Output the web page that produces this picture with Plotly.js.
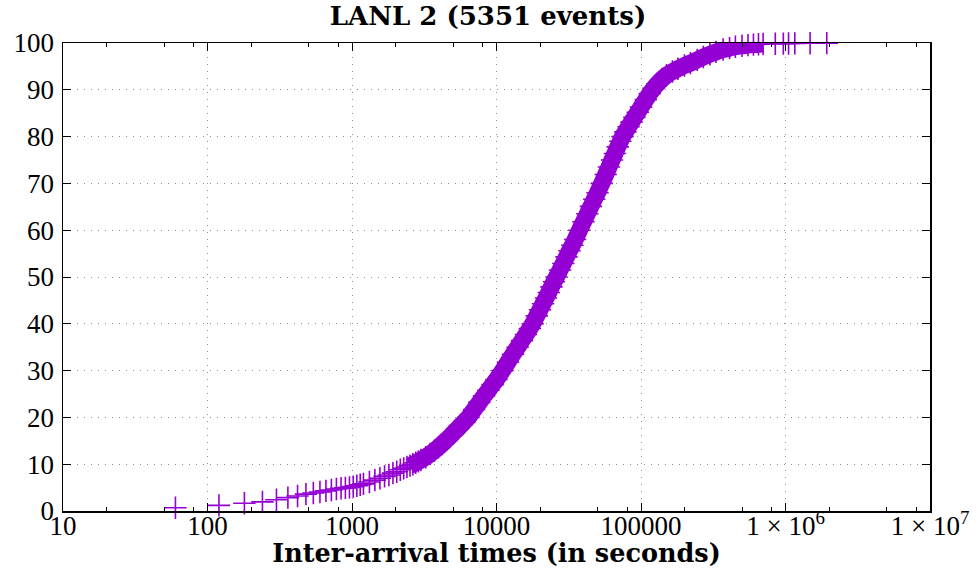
<!DOCTYPE html>
<html>
<head>
<meta charset="utf-8">
<script src="https://cdn.plot.ly/plotly-3.0.1.min.js"></script>
<style>
  html, body { margin: 0; padding: 0; background: #fff; }
  #chart { width: 976px; height: 568px; }
</style>
</head>
<body>
<div id="chart"></div>
<script>
// Inter-arrival time (seconds) and cumulative percentage of events
const times = [
  60, 120, 180, 240, 300, 360, 420, 480, 540, 600, 660, 720, 780, 840, 900, 960,
  1020, 1080, 1140, 1200, 1320, 1440, 1560, 1680, 1800, 1920, 2040, 2160, 2280, 2400,
  2520, 2640, 2760, 2880, 3000, 3240, 3480, 3720, 3960, 4200, 4500, 4800, 5100, 5400,
  5700, 6000, 6400, 7000, 7600, 8200, 8800, 9400, 10000, 11000, 12000, 13000, 14000,
  15000, 16000, 17000, 17800, 19000, 20000, 21000, 22000, 23000, 24000, 25000, 26000,
  27500, 29000, 30500, 32000, 33500, 35000, 37500, 40000, 42500, 45000, 47500, 50000,
  53500, 57000, 60000, 63000, 66000, 69000, 72000, 74500, 78000, 82000, 86000, 90000,
  95000, 100000, 108000, 115000, 122000, 130000, 140000, 150000, 165000, 180000, 200000,
  220000, 245000, 270000, 300000, 330000, 370000, 410000, 450000, 500000, 550000,
  600000, 650000, 700000, 850000, 966000, 1050000, 1160000, 1480000, 1930000
];
const cdfPercent = [
  0.7, 1.2, 1.65, 1.95, 2.4, 2.85, 3.2, 3.6, 3.85, 4.05, 4.3, 4.5, 4.7, 4.85, 4.95, 5.05,
  5.2, 5.4, 5.6, 5.8, 6.2, 6.6, 7.0, 7.4, 7.7, 8.1, 8.4, 8.8, 9.1, 9.4,
  9.7, 10.0, 10.3, 10.6, 10.9, 11.5, 12.2, 12.9, 13.6, 14.3, 15.2, 16.0, 16.9, 17.6,
  18.4, 19.1, 20.0, 21.7, 23.2, 24.6, 25.8, 27.0, 28.1, 30.0, 31.8, 33.5, 35.0,
  36.4, 37.7, 39.0, 40.0, 41.7, 43.0, 44.3, 45.5, 46.7, 47.9, 49.0, 50.0,
  51.5, 52.9, 54.3, 55.6, 56.8, 58.0, 60.0, 61.8, 63.5, 65.1, 66.6, 68.0,
  70.0, 71.9, 73.5, 75.0, 76.4, 77.8, 79.0, 80.0, 81.0, 82.1, 83.1, 84.1,
  85.2, 86.3, 87.9, 89.2, 90.3, 91.3, 92.3, 93.1, 93.9, 94.5, 95.2,
  95.7, 96.4, 97.0, 97.6, 98.1, 98.6, 98.9, 99.2, 99.4, 99.55,
  99.65, 99.72, 99.78, 99.83, 99.87, 99.9, 99.93, 99.96, 99.98
];
const xTickVals = [10, 100, 1000, 10000, 100000, 1000000, 10000000];
const xTickText = ['10', '100', '1000', '10000', '100000', '1 × 10<sup>6</sup>', '1 × 10<sup>7</sup>'];
const xMinorVals = [];
[10, 100, 1000, 10000, 100000, 1000000].forEach(d => { [2, 5, 8].forEach(m => xMinorVals.push(d * m)); });
const yTickVals = [0, 10, 20, 30, 40, 50, 60, 70, 80, 90, 100];

// where the markers overlap into a solid band
const denseFrom = times.indexOf(2520);
const denseTo = times.indexOf(700000);

const serif = '"Liberation Serif", "DejaVu Serif", serif';
const boldSerif = '"DejaVu Serif", "Liberation Serif", serif';
const purple = '#9400d3';

const band = {
  x: times.slice(denseFrom, denseTo + 1),
  y: cdfPercent.slice(denseFrom, denseTo + 1),
  type: 'scatter',
  mode: 'lines',
  cliponaxis: false,
  line: { color: purple, width: 17, shape: 'spline', smoothing: 0.6 },
  hoverinfo: 'skip'
};

const points = {
  x: times,
  y: cdfPercent,
  type: 'scatter',
  mode: 'markers',
  cliponaxis: false,
  marker: {
    symbol: 'cross-thin-open',
    size: 16,
    color: purple,
    line: { color: purple, width: 1.6 }
  },
  hoverinfo: 'x+y'
};

const layout = {
  width: 976,
  height: 568,
  margin: { l: 63, r: 46, t: 43, b: 57 },
  paper_bgcolor: '#ffffff',
  plot_bgcolor: '#ffffff',
  showlegend: false,
  title: {
    text: '<b>LANL 2 (5351 events)</b>',
    font: { family: boldSerif, size: 26, color: '#000' },
    x: 0.5, xanchor: 'center',
    y: 0.972, yanchor: 'middle'
  },
  xaxis: {
    type: 'log',
    range: [1, 7],
    tickmode: 'array',
    tickvals: xTickVals,
    ticktext: xTickText,
    ticks: 'inside',
    ticklen: 8,
    tickwidth: 1,
    tickcolor: '#000',
    showline: true,
    linecolor: '#000',
    linewidth: 1.5,
    mirror: 'allticks',
    showgrid: true,
    gridcolor: '#909090',
    griddash: '1px,6px',
    gridwidth: 1,
    zeroline: false,
    tickfont: { family: serif, size: 27, color: '#000' },
    ticklabelstandoff: -10,
    minor: {
      tickmode: 'array',
      tickvals: xMinorVals,
      ticks: 'inside',
      ticklen: 4,
      tickcolor: '#000',
      showgrid: false
    },
    title: {
      text: '<b>Inter-arrival times (in seconds)</b>',
      font: { family: boldSerif, size: 25.5, color: '#000' },
      standoff: 4
    }
  },
  yaxis: {
    range: [0, 100],
    tickmode: 'array',
    tickvals: yTickVals,
    ticks: 'inside',
    ticklen: 8,
    tickwidth: 1,
    tickcolor: '#000',
    showline: true,
    linecolor: '#000',
    linewidth: 1.5,
    mirror: 'allticks',
    showgrid: true,
    gridcolor: '#909090',
    griddash: '1px,6px',
    gridwidth: 1,
    zeroline: false,
    tickfont: { family: serif, size: 27, color: '#000' },
    ticklabelstandoff: 2
  }
};

Plotly.newPlot('chart', [band, points], layout, { displayModeBar: false, staticPlot: true });
</script>
</body>
</html>
